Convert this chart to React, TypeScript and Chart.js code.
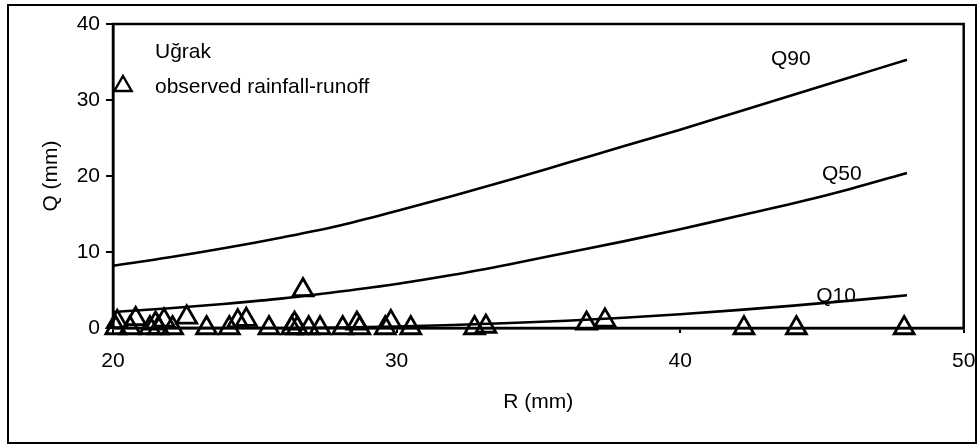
import React, { useEffect, useRef } from "react";
import { Chart, registerables } from "chart.js";

Chart.register(...registerables);

// Curve abscissae (rainfall R, mm) and runoff quantiles (Q, mm)
const curveR = [20, 22, 24, 26, 28, 30, 32, 34, 36, 38, 40, 42, 44, 46, 48];
const q90 = [8.2, 9.3, 10.55, 11.95, 13.5, 15.4, 17.4, 19.5, 21.7, 23.9, 26.1, 28.4, 30.7, 33.0, 35.3];
const q50 = [2.1, 2.6, 3.2, 3.9, 4.8, 5.8, 7.0, 8.4, 9.9, 11.4, 13.0, 14.7, 16.4, 18.3, 20.4];
const q10 = [0, 0, 0, 0, 0.05, 0.2, 0.4, 0.65, 0.95, 1.35, 1.8, 2.35, 2.95, 3.6, 4.3];

// Observed rainfall-runoff events
const obsR = [20.1, 20.15, 20.6, 20.8, 21.3, 21.5, 21.6, 21.8, 22.1, 22.6, 23.3, 24.1, 24.4, 24.7, 25.5, 26.3, 26.4, 26.5, 26.7, 26.9, 27.3, 28.1, 28.6, 28.7, 29.6, 29.8, 30.5, 32.75, 33.15, 36.7, 37.35, 42.25, 44.1, 47.9];
const obsQ = [0, 0.8, 0, 1.2, 0, 0.6, 0, 1.0, 0, 1.4, 0, 0, 0.9, 1.1, 0, 0, 0.6, 0, 5.0, 0, 0, 0, 0.6, 0, 0, 0.8, 0, 0, 0.2, 0.6, 1.0, 0, 0, 0];

// Curve labels: text and anchor in data units
const curveLabels = ["Q90", "Q50", "Q10"];
const curveLabelR = [43.9, 45.7, 45.5];
const curveLabelQ = [35.4, 20.3, 4.2];

const xTicks = [20, 30, 40, 50];
const yTicks = [0, 10, 20, 30, 40];

const stationName = "Uğrak";
const legendText = "observed rainfall-runoff";

const FONT = "'Liberation Sans', Arial, sans-serif";
const FS = 21;

function drawTriangle(ctx: CanvasRenderingContext2D, x: number, y: number, r: number) {
  ctx.beginPath();
  let rad = 0;
  ctx.moveTo(x + Math.sin(rad) * r, y - Math.cos(rad) * r);
  rad += (2 * Math.PI) / 3;
  ctx.lineTo(x + Math.sin(rad) * r, y - Math.cos(rad) * r);
  rad += (2 * Math.PI) / 3;
  ctx.lineTo(x + Math.sin(rad) * r, y - Math.cos(rad) * r);
  ctx.closePath();
  ctx.stroke();
}

const framePlugin = {
  id: "framePlugin",
  beforeDraw(chart: any) {
    const { ctx, width, height } = chart;
    ctx.save();
    ctx.fillStyle = "#fff";
    ctx.fillRect(0, 0, width, height);
    ctx.restore();
  },
  afterDraw(chart: any) {
    const { ctx, chartArea, scales } = chart;
    ctx.save();
    ctx.strokeStyle = "#000";
    ctx.lineWidth = 2.5;
    ctx.strokeRect(chartArea.left, chartArea.top, chartArea.right - chartArea.left, chartArea.bottom - chartArea.top);
    ctx.lineWidth = 2;
    ctx.strokeRect(8, 5, 968, 438);

    ctx.fillStyle = "#000";
    ctx.font = `${FS}px ${FONT}`;
    ctx.textBaseline = "middle";
    ctx.textAlign = "center";
    curveLabels.forEach((t, i) => {
      const x = scales.x.getPixelForValue(curveLabelR[i]);
      const y = scales.y.getPixelForValue(curveLabelQ[i]);
      ctx.fillText(t, x, y);
    });

    // legend
    ctx.textAlign = "left";
    ctx.fillText(stationName, 155, 52);
    ctx.fillText(legendText, 155, 87);
    ctx.lineWidth = 2.4;
    ctx.lineJoin = "miter";
    drawTriangle(ctx, 123, 86, 10);
    ctx.restore();
  },
};

export default function App() {
  const ref = useRef<HTMLCanvasElement | null>(null);

  useEffect(() => {
    if (!ref.current) return;
    Chart.defaults.color = "#000";
    const lineDs = (label: string, data: number[]) => ({
      type: "line" as const,
      label,
      data: curveR.map((r, i) => ({ x: r, y: data[i] })),
      borderColor: "#000",
      borderWidth: 2.6,
      pointRadius: 0,
      fill: false,
      showLine: true,
      cubicInterpolationMode: "monotone" as const,
    });
    const chart = new Chart(ref.current, {
      type: "scatter",
      data: {
        datasets: [
          lineDs("Q90", q90),
          lineDs("Q50", q50),
          lineDs("Q10", q10),
          {
            label: legendText,
            data: obsR.map((r, i) => ({ x: r, y: obsQ[i] })),
            pointStyle: "triangle",
            pointRadius: 11.5,
            pointBorderWidth: 2.8,
            borderColor: "#000",
            backgroundColor: "rgba(0,0,0,0)",
            clip: false,
          } as any,
        ],
      },
      options: {
        responsive: false,
        animation: false,
        layout: { padding: { left: 0, top: 24, right: 13, bottom: 0 } },
        plugins: { legend: { display: false }, tooltip: { enabled: false } },
        scales: {
          x: {
            type: "linear",
            min: 20,
            max: 50,
            afterFit: (s: any) => {
              s.height = 117;
              s.paddingLeft = 0;
              s.paddingRight = 0;
            },
            afterBuildTicks: (s: any) => {
              s.ticks = xTicks.map((v) => ({ value: v }));
            },
            ticks: { padding: 16, font: { family: FONT, size: FS }, color: "#000" },
            grid: { drawOnChartArea: false, drawTicks: true, tickLength: 5, color: "#000", lineWidth: 2 },
            border: { display: true, color: "#000", width: 2.5 },
            title: {
              display: true,
              text: "R (mm)",
              font: { family: FONT, size: FS },
              color: "#000",
              padding: { top: 0, bottom: 30 },
            },
          },
          y: {
            type: "linear",
            min: 0,
            max: 40,
            afterFit: (s: any) => {
              s.width = 113;
              s.paddingTop = 0;
              s.paddingBottom = 0;
            },
            afterBuildTicks: (s: any) => {
              s.ticks = yTicks.map((v) => ({ value: v }));
            },
            ticks: { padding: 6, font: { family: FONT, size: FS }, color: "#000" },
            grid: { drawOnChartArea: false, drawTicks: true, tickLength: 7, color: "#000", lineWidth: 2 },
            border: { display: true, color: "#000", width: 2.5 },
            title: {
              display: true,
              text: "Q (mm)",
              font: { family: FONT, size: FS },
              color: "#000",
              padding: { top: 39, bottom: 0 },
            },
          },
        },
      },
      plugins: [framePlugin],
    });
    return () => chart.destroy();
  }, []);

  return (
    <div style={{ position: "absolute", left: 0, top: 0, width: 978, height: 445 }}>
      <canvas ref={ref} width={978} height={445} style={{ display: "block" }} />
    </div>
  );
}
